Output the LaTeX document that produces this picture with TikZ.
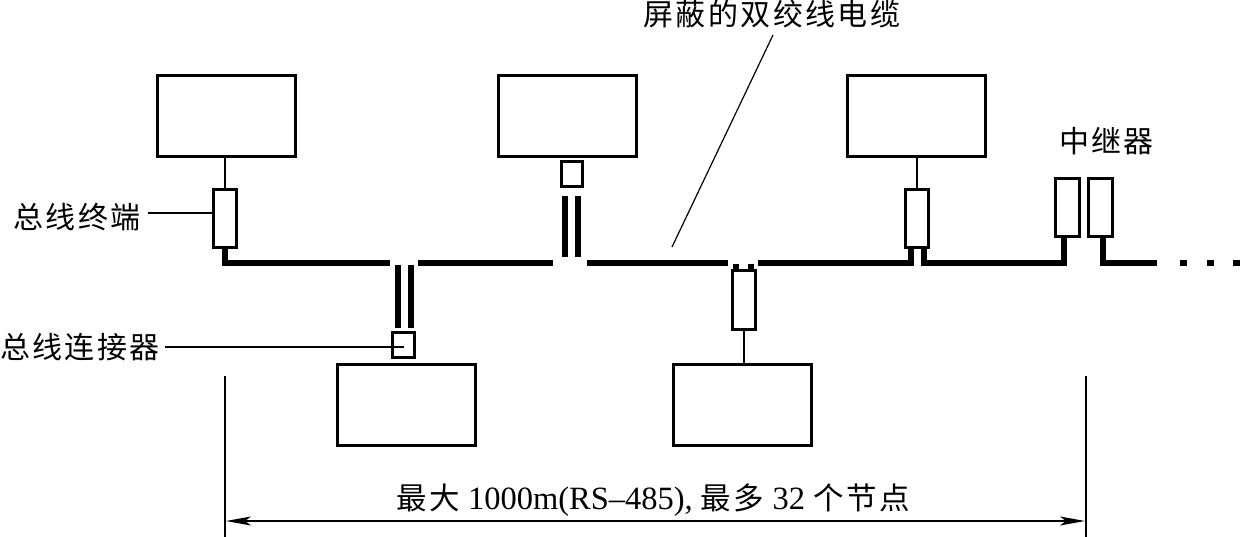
\documentclass[tikz,border=0pt]{standalone}
\usepackage{fontspec}
\setmainfont{Liberation Serif}
\newfontfamily\cjk[LetterSpace=8]{Noto Sans CJK SC}
\usetikzlibrary{arrows.meta}
\tikzset{
  x=1pt,y=-1pt,
  unit/.style={draw=black,line width=3pt,fill=white,inner sep=0pt,minimum width=#1},
  thin wire/.style={line width=1.2pt},
  bus/.style={line width=6pt,line cap=butt,line join=miter},
  dim/.style={line width=1.5pt},
  lab/.style={inner sep=0pt,font=\fontsize{30pt}{33pt}\selectfont\cjk},
}
\newcommand{\cj}[1]{{\cjk\fontsize{30.5pt}{33pt}\selectfont #1}}
\begin{document}
\begin{tikzpicture}
\useasboundingbox (0,0) rectangle (1240,537);
% stations
\node[unit=138pt,minimum height=81pt] (s1) at (226.5,116) {};
\node[unit=138pt,minimum height=81pt] (s2) at (567,116) {};
\node[unit=138pt,minimum height=81pt] (s3) at (916.5,116) {};
\node[unit=138pt,minimum height=81pt] (s4) at (406.5,405) {};
\node[unit=138pt,minimum height=81pt] (s5) at (742.5,405) {};
% terminators
\node[unit=23pt,minimum height=58pt] (t1) at (225,219) {};
\node[unit=23pt,minimum height=58pt] (t2) at (917,219) {};
\node[unit=23pt,minimum height=59pt] (t3) at (744,300.5) {};
% repeater
\node[unit=24pt,minimum height=58pt] (r1) at (1067.5,207.5) {};
\node[unit=24pt,minimum height=58pt] (r2) at (1100.5,207.5) {};
% connectors
\node[unit=21pt,minimum height=25pt] (c1) at (572,174) {};
\node[unit=22pt,minimum height=25pt] (c2) at (403.5,345) {};
% stub wires
\draw[thin wire] (s1.south -| t1.north) -- (t1.north);
\draw[thin wire] (s3.south -| t2.north) -- (t2.north);
\draw[thin wire] (t3.south) -- (t3.south |- s5.north);
% bus
\coordinate (b1e) at (390,263);
\coordinate (b2s) at (418,263);
\coordinate (b2e) at (553,263);
\coordinate (b3s) at (587,263);
\coordinate (b3e) at (728,263);
\coordinate (b4s) at (758,263);
\coordinate (b5e) at (1157,263);
\draw[bus] (t1.south) -- (225,263) -- (b1e);
\draw[bus] (b2s) -- (b2e);
\draw[bus] (b3s) -- (b3e);
\draw[bus] (b4s) -- (911,263) -- (911,248);
\draw[bus] (924,248) -- (924,263) -- (1063.5,263) -- (1063.5,237);
\draw[bus] (1102.5,237) -- (1102.5,263) -- (b5e);
% continuation dots
\draw[bus] (1179.5,263) -- (1186.5,263);
\draw[bus] (1207,263) -- (1214,263);
\draw[bus] (1233,263) -- (1240,263);
% double bars
\draw[bus] (565,257) -- (565,196);
\draw[bus] (577.5,257) -- (577.5,196);
\draw[bus] (398,265) -- (398,328);
\draw[bus] (411,265) -- (411,328);
\draw[bus] (736,264) -- (736,270);
\draw[bus] (751,264) -- (751,270);
% labels
\node[lab,anchor=center] (l1) at (772,14) {屏蔽的双绞线电缆};
\node[lab,anchor=center] (l2) at (1106.5,141) {中继器};
\node[lab,anchor=center] (l3) at (77,217) {总线终端};
\node[lab,anchor=center] (l4) at (80,347) {总线连接器};
\node[inner sep=0pt,font=\fontsize{32.5pt}{35pt}\selectfont] (l5) at (653,500)
  {\cj{最大} 1000m(RS–485), \cj{最多} 32 \cj{个节点}};
% leaders
\coordinate (k1) at (773,35);
\coordinate (k2) at (672,247);
\draw[thin wire] (k1) -- (k2);
\coordinate (k3) at (148,213);
\draw[thin wire] (k3) -- (k3 -| t1.west);
\coordinate (k4) at (165,347);
\coordinate (k5) at (404,347);
\draw[thin wire] (k4) -- (k5);
% dimension
\coordinate (d1) at (225,376);
\coordinate (d2) at (225,537);
\coordinate (d3) at (1086,376);
\coordinate (d4) at (1086,537);
\draw[dim] (d1) -- (d2);
\draw[dim] (d3) -- (d4);
\coordinate (e1) at (226,521);
\coordinate (e2) at (1085,521);
\draw[dim,{Stealth[length=25pt,width=9pt,inset=6pt]}-{Stealth[length=25pt,width=9pt,inset=6pt]}] (e1) -- (e2);
\end{tikzpicture}
\end{document}
